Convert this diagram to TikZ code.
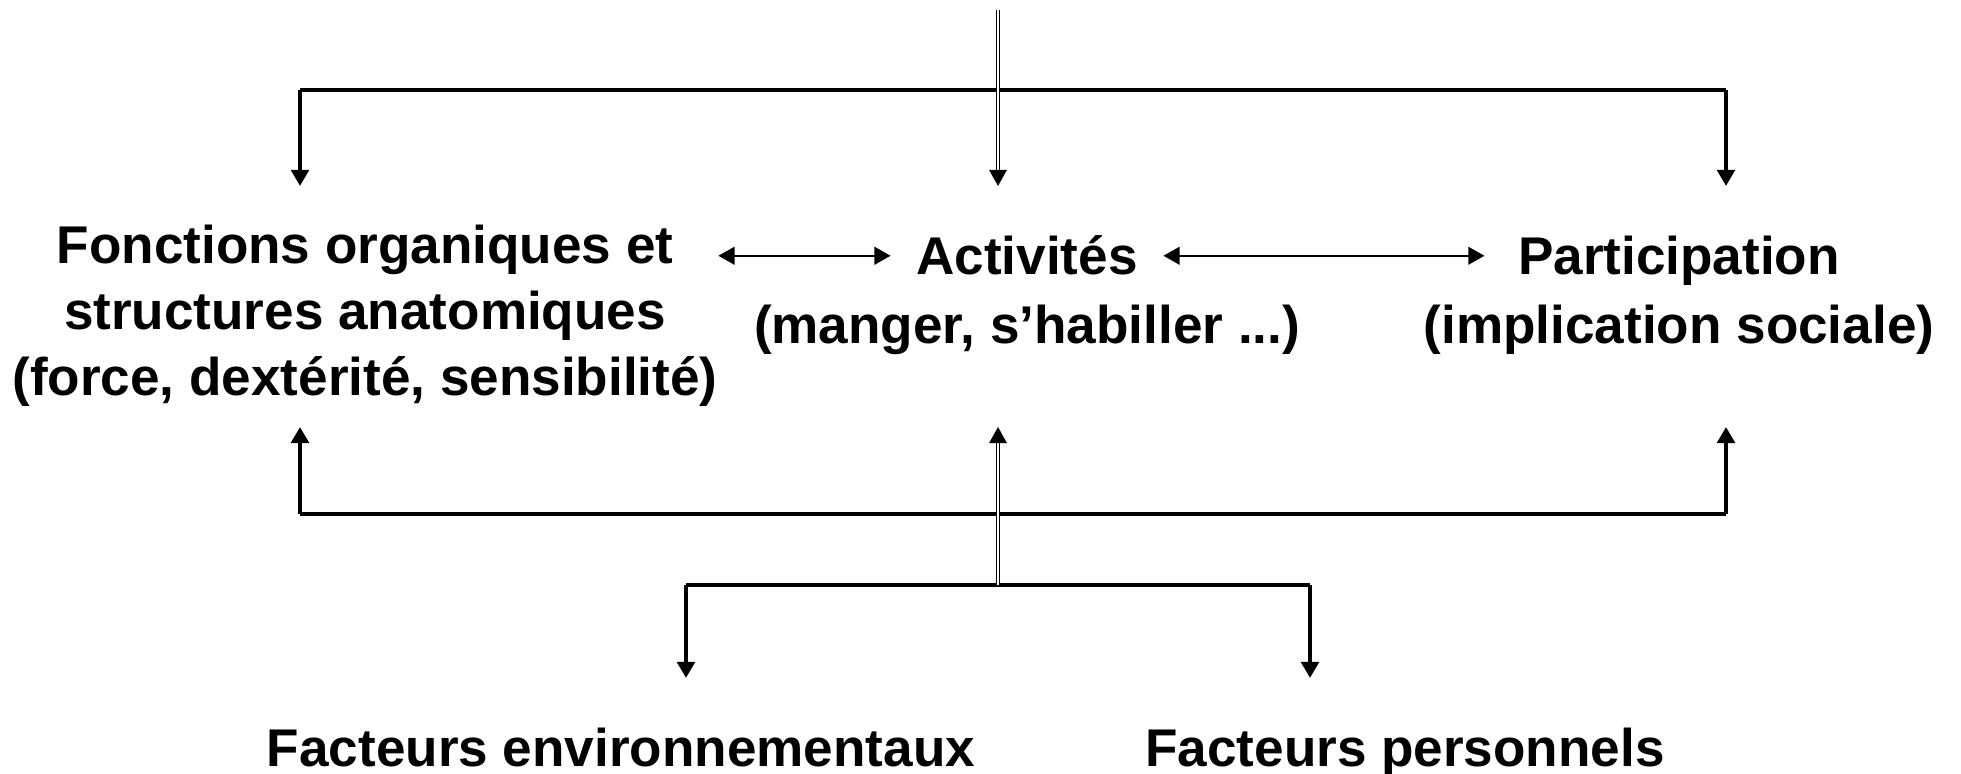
\documentclass[tikz,border=0pt]{standalone}
\usepackage{fontspec}
\setmainfont{Liberation Sans}
\usetikzlibrary{arrows.meta}

\begin{document}
\begin{tikzpicture}[x=0.01cm, y=-0.01cm,
	label/.style = {font=\fontsize{15.1}{18.8}\selectfont\bfseries, align=center, inner sep=0pt},
	bar/.style = {line width=1.25pt},
	drop/.style = {line width=1.25pt, -{Triangle[width=5pt,length=4.6pt]}},
	feed/.style = {double, line width=0.45pt, double distance=0.5pt, -{Triangle[width=5pt,length=4.6pt]}},
	link/.style = {line width=0.65pt, {Triangle[width=5pt,length=4.6pt]}-{Triangle[width=5pt,length=4.6pt]}}]
	\useasboundingbox (0,0) rectangle (1961,774);

	\node[label] (fonct) at (365,316) {Fonctions organiques et\\structures anatomiques\\(force, dext\'erit\'e, sensibilit\'e)};
	\node[label, anchor=base, inner xsep=0.25cm] (activ) at (1027,275) {Activit\'es};
	\node[label, anchor=base] (activex) at (1027,344) {(manger, s'habiller ...)};
	\node[label, anchor=base, inner xsep=0.33cm] (partic) at (1679,275) {Participation};
	\node[label, anchor=base] (particex) at (1679,344) {(implication sociale)};
	\node[label, anchor=base] (envir) at (621,767) {Facteurs environnementaux};
	\node[label, anchor=base] (perso) at (1405,767) {Facteurs personnels};

	\coordinate (src) at (998,10);
	\coordinate (topl) at (300,90);
	\coordinate (topr) at (1726,90);
	\coordinate (uptip) at (0,186);
	\coordinate (botl) at (300,514);
	\coordinate (botr) at (1726,514);
	\coordinate (lowtip) at (0,427);
	\coordinate (ctxl) at (686,585);
	\coordinate (ctxr) at (1310,585);
	\coordinate (ctxtip) at (0,678);

	\draw[bar] (topl) -- (topr);
	\draw[drop] (topl) -- (topl |- uptip);
	\draw[drop] (topr) -- (topr |- uptip);
	\draw[bar] (botl) -- (botr);
	\draw[drop] (botl) -- (botl |- lowtip);
	\draw[drop] (botr) -- (botr |- lowtip);
	\draw[bar] (ctxl) -- (ctxr);
	\draw[drop] (ctxl) -- (ctxl |- ctxtip);
	\draw[drop] (ctxr) -- (ctxr |- ctxtip);

	\draw[feed] (src) -- (src |- uptip);
	\draw[feed] (src |- ctxl) -- (src |- lowtip);

	\draw[link] (fonct.east |- activ.west) -- (activ.west);
	\draw[link] (activ.east) -- (activ.east -| partic.west);
\end{tikzpicture}
\end{document}
